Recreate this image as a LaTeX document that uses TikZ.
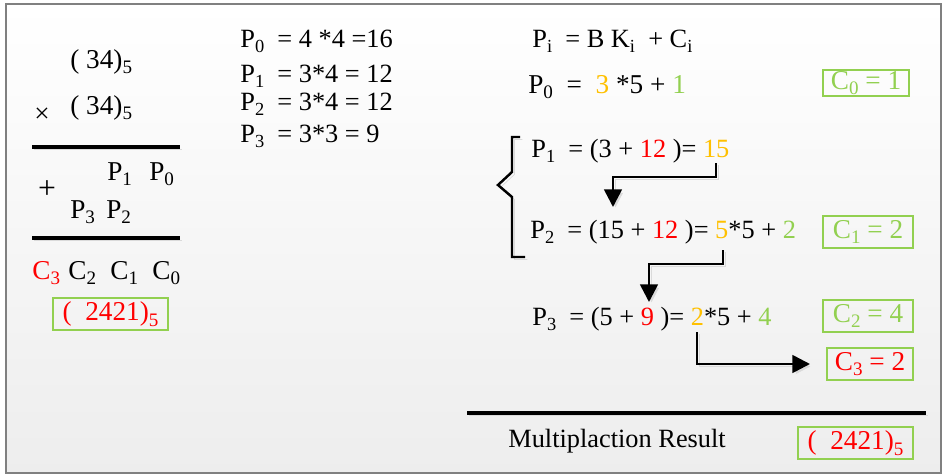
\documentclass[tikz,border=0pt]{standalone}
\usepackage{fontspec}
\setmainfont{Liberation Serif}
\usetikzlibrary{arrows.meta,positioning,calc}
\definecolor{carry}{HTML}{92D050}
\definecolor{digit}{HTML}{FFC000}
\definecolor{hot}{HTML}{FF0000}
\definecolor{framegray}{HTML}{808080}
\definecolor{shade}{HTML}{DADADA}
\newcommand{\lo}[1]{\raisebox{-0.45ex}{\scalebox{0.7}{#1}}}
\newcommand{\dg}[1]{\textcolor{digit}{#1}}
\newcommand{\cg}[1]{\textcolor{carry}{#1}}
\newcommand{\hr}[1]{\textcolor{hot}{#1}}

\begin{document}
\begin{tikzpicture}[x=0.02cm, y=-0.02cm,
  lft/.style={anchor=base west, inner sep=0pt, font=\fontsize{15.5}{18}\selectfont},
  mid/.style={anchor=base west, inner sep=0pt, font=\fontsize{15}{18}\selectfont},
  rgt/.style={anchor=base west, inner sep=0pt, font=\fontsize{15}{18}\selectfont},
  cbox/.style={draw=carry, line width=0.85pt, inner sep=0pt, minimum height=0.64cm,
    font=\fontsize{15.5}{18}\selectfont},
  shadowed/.style={preaction={draw=shade, transform canvas={xshift=1.4pt, yshift=-1.4pt}}},
  rule/.style={line width=2.2pt, shadowed},
  flow/.style={line width=1.5pt, shadowed, -{Triangle[length=10pt, width=10pt]}}
]
  \useasboundingbox (0,0) rectangle (944,474);
  \shade[top color=white, bottom color=black!7, draw=framegray, line width=1pt]
    (6,4) rectangle (941,473);

  % left: column multiplication
  \node[lft] (a) at (70,68) {( 34)\lo{5}};
  \node[lft, anchor=center] (times) at (42,115) {×};
  \node[lft] (b) at (70,114) {( 34)\lo{5}};
  \coordinate (r1w) at (32,147);
  \coordinate (r1e) at (180,147);
  \draw[rule] (r1w) -- (r1e);
  \node[lft] (p1) at (107,180) {P\lo{1}};
  \node[lft] (p0) at (149,180) {P\lo{0}};
  \node[lft, anchor=center, font=\fontsize{18}{20}\selectfont] (plus) at (47,190) {+};
  \node[lft] (p3) at (70,218) {P\lo{3}};
  \node[lft] (p2) at (106,218) {P\lo{2}};
  \coordinate (r2w) at (32,238);
  \coordinate (r2e) at (180,238);
  \draw[rule] (r2w) -- (r2e);
  \node[lft, text=hot] (c3) at (32,279) {C\lo{3}};
  \foreach \n/\x in {2/68,1/110,0/152}
    \node[lft] (c\n) at (\x,279) {C\lo{\n}};
  \node[cbox, minimum width=2.3cm, text=hot] (res) at (110.5,314) {(\ \ 2421)\lo{5}};

  % middle: partial products
  \foreach \i/\y/\t in {0/47/{= 4 *4 =16}, 1/82/{= 3*4 = 12}, 2/110/{= 3*4 = 12}, 3/142/{= 3*3 = 9}}
    \node[mid] (m\i) at (240,\y) {P\lo{\i}\ \ \t};

  % right: carrying in base 5
  \node[rgt] (rule) at (532,47) {P\lo{i}\ \ = B K\lo{i}\ \ + C\lo{i}};
  \node[rgt, font=\fontsize{15.5}{18}\selectfont] (q0) at (528,93) {P\lo{0}\ \ = \ \dg{3} *5 + \cg{1}};
  \node[cbox, minimum width=1.72cm, minimum height=0.52cm, text=carry] (k0) at (866,83) {C\lo{0} = 1};

  \draw[line width=1.4pt, shadowed] (520,137) -- (512,137) -- (512,172) -- (498,185)
    -- (512,197) -- (512,257) -- (525,257);

  \node[rgt] (q1) at (531,157) {P\lo{1}\ \ = (3 + \hr{12} )= \dg{15}};
  \node[rgt] (q2) at (530,238) {P\lo{2}\ \ = (15 + \hr{12} )= \dg{5}*5 + \cg{2}};
  \node[cbox, minimum width=1.8cm, text=carry] (k1) at (868,232) {C\lo{1} = 2};
  \node[rgt] (q3) at (532,325) {P\lo{3}\ \ = (5 + \hr{9} )= \dg{2}*5 + \cg{4}};
  \node[cbox, minimum width=1.8cm, text=carry] (k2) at (868,316) {C\lo{2} = 4};
  \node[cbox, minimum width=1.72cm, text=hot] (k3) at (870,364) {C\lo{3} = 2};

  \coordinate (s1) at (716,163);
  \coordinate (e1) at (613,207);
  \draw[flow] (s1) -- ++(0,14) -| (e1);
  \coordinate (s2) at (723,250);
  \coordinate (e2) at (649,302);
  \draw[flow] (s2) -- ++(0,14) -| (e2);
  \coordinate (s3) at (697,332);
  \coordinate (e3) at (810,364);
  \draw[flow] (s3) |- (e3);

  \coordinate (r3w) at (467,413);
  \coordinate (r3e) at (926,413);
  \draw[rule] (r3w) -- (r3e);
  \node[rgt] (total) at (508,447) {Multiplaction Result};
  \node[cbox, minimum width=2.3cm, text=hot] (final) at (855.5,443) {(\ \ 2421)\lo{5}};
\end{tikzpicture}
\end{document}
